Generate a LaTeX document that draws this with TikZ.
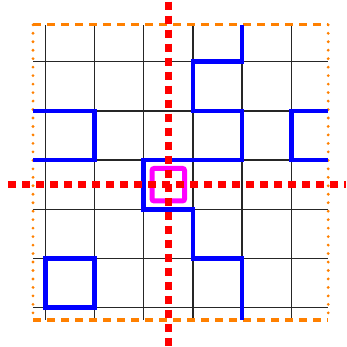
\documentclass[tikz,border=0pt]{standalone}
\usetikzlibrary{calc}
\definecolor{frameorange}{RGB}{255,128,0}
\definecolor{targetpink}{RGB}{255,0,255}
\begin{document}
\begin{tikzpicture}[
  gridline/.style={black!85, line width=0.8pt},
  wall/.style={blue, line width=2.7pt, line join=miter},
  framedash/.style={frameorange, line width=1.8pt, dash pattern=on 4.8pt off 3.3pt},
  framedot/.style={frameorange, line width=1.8pt, line cap=round, dash pattern=on 0pt off 4.9pt},
  axis/.style={red, line width=4pt, dash pattern=on 4.8pt off 3.3pt},
  target/.style={targetpink, line width=2.9pt, rounded corners=1.2pt}
  ]

  \useasboundingbox (-0.671,-0.549) rectangle (6.362,6.504);

  % grid
  \foreach \i in {0,...,5} {
    \draw[gridline] (\i+0.25,0) -- (\i+0.25,6);
    \draw[gridline] (0,\i+0.25) -- (6,\i+0.25);
  }

  % frame
  \draw[framedash] (0,6) -- (6,6);
  \draw[framedash] (0,0) -- (6,0);
  \draw[framedot] (0,6) -- (0,0);
  \draw[framedot] (6,6) -- (6,0);

  % walls
  \draw[wall] (0,4.25) -- (1.25,4.25) -- (1.25,3.25) -- (0,3.25);
  \draw[wall] (6,4.25) -- (5.25,4.25) -- (5.25,3.25) -- (6,3.25);
  \draw[wall] (0.25,0.25) rectangle (1.25,1.25);
  \draw[wall] (4.25,6) -- (4.25,5.25) -- (3.25,5.25) -- (3.25,4.25)
    -- (4.25,4.25) -- (4.25,3.25) -- (2.25,3.25) -- (2.25,2.25)
    -- (3.25,2.25) -- (3.25,1.25) -- (4.25,1.25) -- (4.25,0);

  % target cell
  \draw[target] (2.42,2.42) rectangle (3.08,3.08);

  % axes through the cell
  \draw[axis] (-0.508,2.75) -- (6.362,2.75);
  \draw[axis] (2.75,6.47) -- (2.75,-0.549);

\end{tikzpicture}
\end{document}
